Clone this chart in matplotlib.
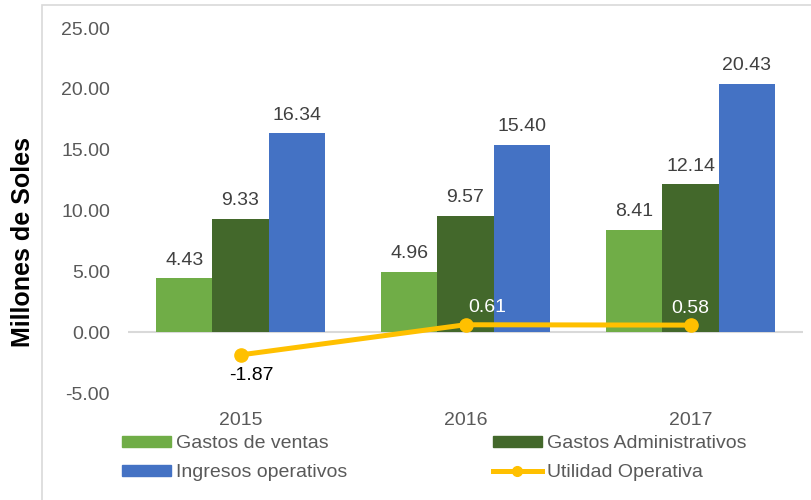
import numpy as np
import matplotlib
matplotlib.use("Agg")
from matplotlib import pyplot as plt
from matplotlib.patches import Rectangle
from matplotlib.lines import Line2D

years = ["2015", "2016", "2017"]
gastosVentas = [4.43, 4.96, 8.41]
gastosAdministrativos = [9.33, 9.57, 12.14]
ingresosOperativos = [16.34, 15.40, 20.43]
utilidadOperativa = [-1.87, 0.61, 0.58]

plt.rcParams["font.family"] = ["Liberation Sans", "DejaVu Sans"]

fig = plt.figure(figsize=(8.11, 5.0), dpi=100)
ax = fig.add_axes([128 / 811, 107 / 500, 675 / 811, 365 / 500])

# outer chart frame (only the left and top edges are inside the picture)
fig.patches.append(Rectangle((42 / 811, -0.1), 1.2, (495 / 500) + 0.1,
                             transform=fig.transFigure, fill=False,
                             edgecolor="#D9D9D9", linewidth=1.2))

x = np.arange(len(years))
barWidth = 0.25
greenColor = "#70AD47"
darkGreenColor = "#43682B"
blueColor = "#4472C4"
yellowColor = "#FFC000"
labelSize = 14

series = [
    (gastosVentas, greenColor, -barWidth),
    (gastosAdministrativos, darkGreenColor, 0.0),
    (ingresosOperativos, blueColor, barWidth),
]
for values, color, offset in series:
    bars = ax.bar(x + offset, values, barWidth, color=color, zorder=2)
    for bar, value in zip(bars, values):
        ax.annotate(f"{value:.2f}", (bar.get_x() + bar.get_width() / 2, value),
                    xytext=(0, 7), textcoords="offset points",
                    ha="center", va="bottom", fontsize=labelSize, color="#404040")

ax.plot(x, utilidadOperativa, color=yellowColor, linewidth=3.6,
        marker="o", markersize=9.5, zorder=3)

# label shifts for the line labels, as Excel placed them
lineLabelShift = [8, 16, 0]
for xi, value, shift in zip(x, utilidadOperativa, lineLabelShift):
    if value < 0:
        ax.annotate(f"{value:.2f}", (xi, value), xytext=(shift, -9),
                    textcoords="offset points", ha="center", va="top",
                    fontsize=labelSize, color="black")
    else:
        ax.annotate(f"{value:.2f}", (xi, value), xytext=(shift, 6),
                    textcoords="offset points", ha="center", va="bottom",
                    fontsize=labelSize, color="white", zorder=4)

ax.axhline(0, color="#D9D9D9", linewidth=1.5, zorder=1)
ax.set_xlim(-0.5, 2.5)
ax.set_ylim(-5, 25)
yTicks = np.arange(-5, 26, 5)
ax.set_yticks(yTicks)
ax.set_yticklabels([f"{t:.2f}" for t in yTicks])
ax.set_xticks(x)
ax.set_xticklabels(years)
ax.tick_params(axis="both", length=0, labelsize=labelSize, colors="#595959")
ax.tick_params(axis="y", pad=13)
ax.tick_params(axis="x", pad=14)
for spine in ax.spines.values():
    spine.set_visible(False)

fig.text(23 / 811, (500 - 242) / 500, "Millones de Soles", rotation=90,
         ha="center", va="center", fontsize=18, fontweight="bold")

legendStyle = dict(loc="upper left", frameon=False, fontsize=labelSize,
                   labelcolor="#595959", handlelength=2.5, handleheight=0.5,
                   handletextpad=0.3, labelspacing=0.64, borderpad=0,
                   borderaxespad=0)
leftHandles = [Rectangle((0, 0), 1, 1, color=greenColor),
               Rectangle((0, 0), 1, 1, color=blueColor)]
rightHandles = [Rectangle((0, 0), 1, 1, color=darkGreenColor),
                Line2D([0], [0], color=yellowColor, linewidth=3.6,
                       marker="o", markersize=7)]
fig.legend(leftHandles, ["Gastos de ventas", "Ingresos operativos"],
           bbox_to_anchor=(122 / 811, (500 - 435) / 500), **legendStyle)
fig.legend(rightHandles, ["Gastos Administrativos", "Utilidad Operativa"],
           bbox_to_anchor=(493 / 811, (500 - 435) / 500), **legendStyle)

fig.savefig("out.png", dpi=100)
